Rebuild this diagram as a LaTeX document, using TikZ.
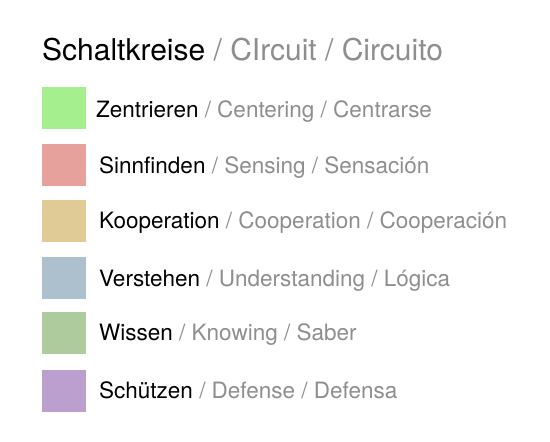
\documentclass[tikz,border=0pt]{standalone}
\usepackage{fontspec}
\setmainfont{TeX Gyre Heros}
\definecolor{gtext}{HTML}{8E8E8E}
\definecolor{cA}{HTML}{A6EF8F}
\definecolor{cB}{HTML}{E6A19C}
\definecolor{cC}{HTML}{E0CB96}
\definecolor{cD}{HTML}{ACC0CE}
\definecolor{cE}{HTML}{AECB9E}
\definecolor{cF}{HTML}{BB9FCF}
\begin{document}
\begin{tikzpicture}[x=1pt,y=-1pt,
  swatch/.style={minimum width=44pt,minimum height=42pt,inner sep=0pt,anchor=north west},
  label/.style={anchor=base west,inner sep=0pt,font=\fontsize{22.5}{26}\selectfont},
  titletext/.style={anchor=base west,inner sep=0pt,font=\fontsize{30}{34}\selectfont}]
\useasboundingbox[fill=white] (0,0) rectangle (550,442);
\node[titletext] (title) at (42,60) {Schaltkreise \textcolor{gtext}{/ CIrcuit / Circuito}};
\node[swatch,fill=cA] (s1) at (42,87) {};
\node[swatch,fill=cB] (s2) at (42,144) {};
\node[swatch,fill=cC] (s3) at (42,200) {};
\node[swatch,fill=cD] (s4) at (42,257) {};
\node[swatch,fill=cE] (s5) at (42,312) {};
\node[swatch,fill=cF] (s6) at (42,370) {};
\node[label] (t1) at (96,117) {Zentrieren \textcolor{gtext}{/ Centering / Centrarse}};
\node[label] (t2) at (99,173) {Sinnfinden \textcolor{gtext}{/ Sensing / Sensación}};
\node[label] (t3) at (99,228) {Kooperation \textcolor{gtext}{/ Cooperation / Cooperación}};
\node[label] (t4) at (99,286) {Verstehen \textcolor{gtext}{/ Understanding / Lógica}};
\node[label] (t5) at (99,340) {Wissen \textcolor{gtext}{/ Knowing / Saber}};
\node[label] (t6) at (99,398) {Schützen \textcolor{gtext}{/ Defense / Defensa}};
\end{tikzpicture}
\end{document}
